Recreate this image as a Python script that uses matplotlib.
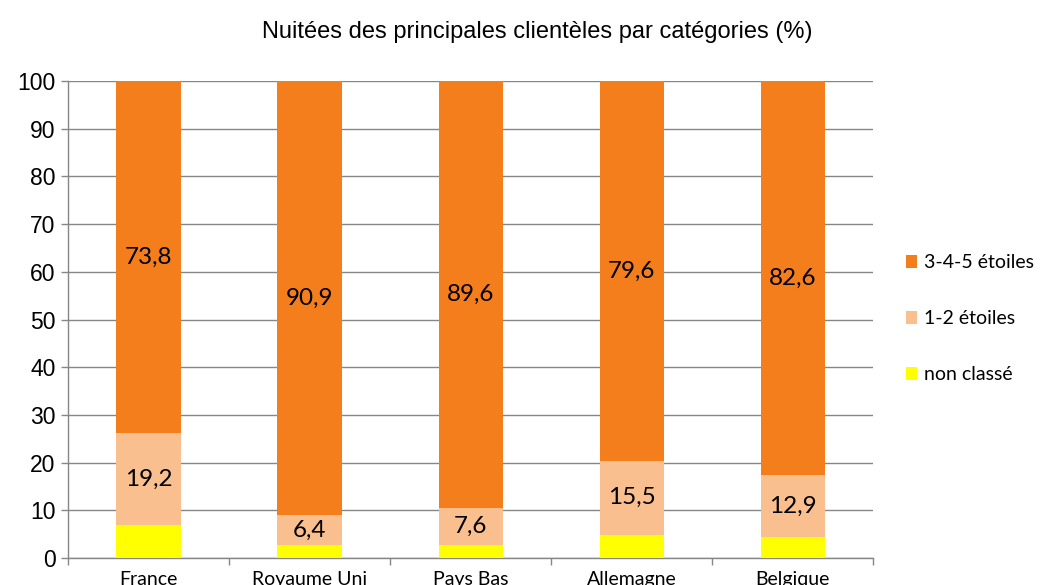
import matplotlib
matplotlib.use("Agg")
from matplotlib import pyplot as plt
import numpy as np

categories = ["France", "Royaume Uni", "Pays Bas", "Allemagne", "Belgique"]
non_classe = [7.0, 2.7, 2.8, 4.9, 4.5]
etoiles_12 = [19.2, 6.4, 7.6, 15.5, 12.9]
etoiles_345 = [73.8, 90.9, 89.6, 79.6, 82.6]
series_names = ["non classé", "1-2 étoiles", "3-4-5 étoiles"]
colors = ["#FFFF00", "#F9BF8F", "#F47D1C"]
y_ticks = list(range(0, 101, 10))

fig = plt.figure(figsize=(10.5, 5.85), dpi=100)
ax = fig.add_axes([0.0648, 0.046, 0.767, 0.8155])

x = np.arange(len(categories))
w = 0.4
b1 = ax.bar(x, non_classe, w, color=colors[0], label=series_names[0], zorder=3)
b2 = ax.bar(x, etoiles_12, w, bottom=non_classe, color=colors[1],
            label=series_names[1], zorder=3)
bottom3 = np.array(non_classe) + np.array(etoiles_12)
b3 = ax.bar(x, etoiles_345, w, bottom=bottom3, color=colors[2],
            label=series_names[2], zorder=3)

# data labels
lab_font = dict(family=["Lato", "DejaVu Sans"], fontsize=17.5, color="black")
for xi, v, b in zip(x, etoiles_12, non_classe):
    ax.text(xi, b + v / 2, str(v).replace(".", ","), ha="center", va="center",
            zorder=4, **lab_font)
for xi, v, b in zip(x, etoiles_345, bottom3):
    ax.text(xi, b + v / 2, str(v).replace(".", ","), ha="center", va="center",
            zorder=4, **lab_font)

ax.set_xlim(-0.5, len(categories) - 0.5)
ax.set_ylim(0, 100)
ax.set_yticks(y_ticks)
ax.set_yticklabels([str(t) for t in y_ticks], family="Liberation Sans",
                   fontsize=16.5)
ax.yaxis.grid(True, color="#868686", linewidth=1, zorder=0)
ax.set_axisbelow(True)

ax.set_xticks(x)
ax.set_xticklabels(categories, family=["Lato", "DejaVu Sans"], fontsize=14)
ax.set_xticks(np.arange(-0.5, len(categories)), minor=True)
ax.tick_params(axis="x", which="major", length=0, pad=9)
ax.tick_params(axis="x", which="minor", length=5, color="#868686", width=1)
ax.tick_params(axis="y", length=5, color="#868686", width=1, pad=4)

for s in ["top", "right"]:
    ax.spines[s].set_visible(False)
for s in ["left", "bottom"]:
    ax.spines[s].set_color("#868686")
    ax.spines[s].set_linewidth(1)

fig.text(0.512, 0.945, "Nuitées des principales clientèles par catégories (%)",
         ha="center", va="center", family="Liberation Sans", fontsize=17)

handles = [b3, b2, b1]
leg = fig.legend(handles, [h.get_label() for h in handles],
                 loc="center left", bbox_to_anchor=(0.846, 0.455),
                 frameon=False, handlelength=0.6, handleheight=0.6,
                 handletextpad=0.35, labelspacing=2.0,
                 prop=dict(family=["Lato", "DejaVu Sans"], size=14))

fig.savefig("out.png", dpi=100)
